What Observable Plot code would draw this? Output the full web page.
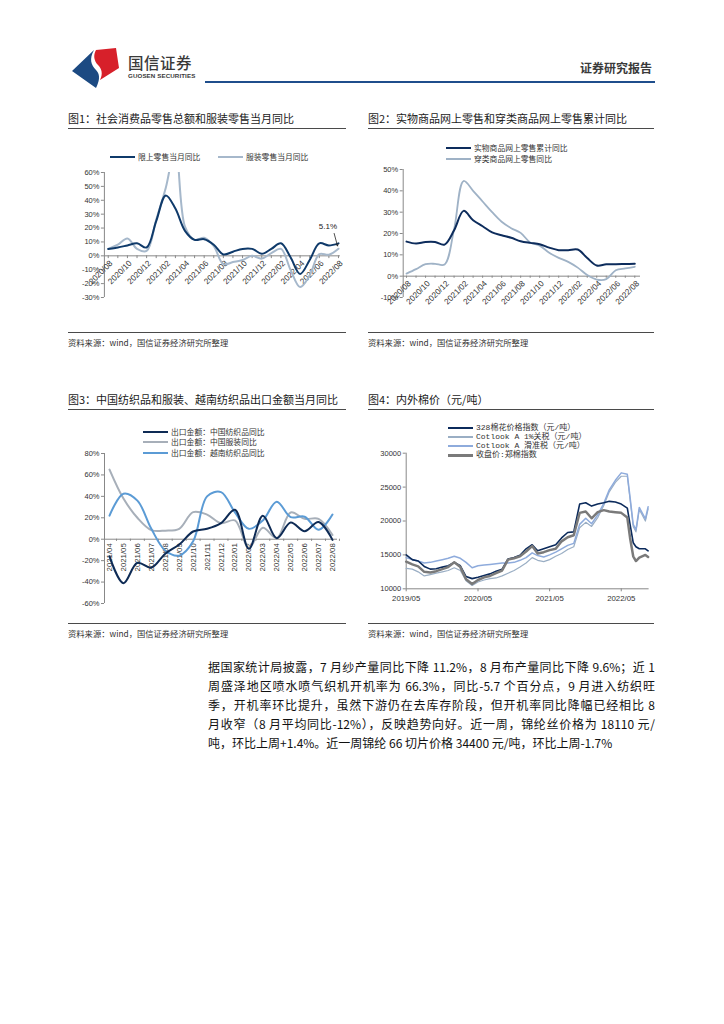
<!DOCTYPE html>
<html><head><meta charset="utf-8">
<script src="https://cdn.jsdelivr.net/npm/d3@7"></script>
<script src="https://cdn.jsdelivr.net/npm/@observablehq/plot@0.6"></script>
<style>
body{margin:0;background:#fff;}
#page{position:relative;width:724px;height:1024px;overflow:hidden;background:#fff;font-family:"Liberation Sans","Noto Sans CJK SC",sans-serif;color:#222;}
.abs{position:absolute;white-space:nowrap;line-height:1;}
.title{font-size:11px;font-family:"Noto Sans CJK SC",sans-serif;color:#1a1a1a;}
.hr{position:absolute;height:1.3px;background:#4a4a4a;}
.src{font-size:8.3px;font-family:"Noto Sans CJK SC",sans-serif;color:#333;}
.leg{font-size:7.8px;font-family:"Noto Sans CJK SC",sans-serif;color:#333;}
.sw{position:absolute;}
.para{position:absolute;left:208px;width:447px;font-family:"Noto Sans CJK SC",sans-serif;font-size:12px;color:#111;}
.para div{height:19px;line-height:19px;text-align:justify;text-align-last:justify;white-space:nowrap;}
.para div.last{text-align-last:left;}
</style>
</head><body><div id="page"></div>
<script>
// ---------------- DATA ----------------
// Fig 1: monthly, 2020/08 - 2022/08
const months1 = ["2020/08","2020/09","2020/10","2020/11","2020/12","2021/01","2021/02","2021/03","2021/04","2021/05","2021/06","2021/07","2021/08","2021/09","2021/10","2021/11","2021/12","2022/01","2022/02","2022/03","2022/04","2022/05","2022/06","2022/07","2022/08"];
const retailAbove = [5, 6, 7.5, 9, 6, 25, 43.5, 34, 18, 11.5, 12, 8, 1, 3, 5, 5, 1.5, 5, 9, -1, -13, -3, 9, 7.5, 9];
const apparelRetail = [5, 8, 12.5, 5, 3.5, 26, 49, 78, 21, 11.5, 13, 7, -6, -4.5, -3, 0, -2, 2, 5, -10, -22.5, -14, 1.2, 0.8, 5.1];
const yTicks1 = [-30,-20,-10,0,10,20,30,40,50,60];

// Fig 2: monthly, 2020/08 - 2022/08
const months2 = months1.slice();
const onlinePhysical = [16.2, 15.3, 16, 16, 14.8, 21.5, 30.6, 26.2, 23.4, 20.5, 19.2, 18, 16.4, 15.6, 15, 13.4, 12.2, 12.2, 12.5, 8.5, 5, 5.6, 5.6, 5.7, 5.8];
const onlineApparel = [1.2, 3.3, 5.6, 5.8, 5.5, 22, 44.6, 40, 35, 30, 25.5, 22.5, 20.3, 15.8, 14.3, 11, 8.6, 6.7, 4, 0.5, -1.6, -1.4, 2.8, 3.6, 4.4];
const yTicks2 = [-10,0,10,20,30,40,50];

// Fig 3: monthly, 2021/04 - 2022/08
const months3 = ["2021/04","2021/05","2021/06","2021/07","2021/08","2021/09","2021/10","2021/11","2021/12","2022/01","2022/02","2022/03","2022/04","2022/05","2022/06","2022/07","2022/08"];
const cnTextile = [-16, -41, -22, -26.5, -13.5, -5, 7.2, 9.7, 15, 27.5, -9, 22, 1, 15.6, 7.5, 16, -0.6];
const cnApparel = [65, 38, 20, 8.5, 8, 9.7, 25.3, 23, 15, 17.5, -8, 10.6, 1, 25, 19, 19, 4];
const vnTextile = [22, 42.5, 36, 9.7, -10.6, -15.3, -2, 40, 44, 25, 9.7, 17.5, 35, 20.6, 21, 8.8, 23];
const yTicks3 = [-60,-40,-20,0,20,40,60,80];

// Fig 4: cotton prices (yuan/ton)
const dates4 = ["2019-05-01","2019-06-01","2019-07-01","2019-08-01","2019-09-01","2019-10-01","2019-11-01","2019-12-01",
"2020-01-01","2020-02-01","2020-03-01","2020-04-01","2020-05-01","2020-06-01","2020-07-01","2020-08-01","2020-09-01","2020-10-01","2020-11-01","2020-12-01",
"2021-01-01","2021-02-01","2021-03-01","2021-04-01","2021-05-01","2021-06-01","2021-07-01","2021-08-01","2021-09-01","2021-10-01","2021-11-01","2021-12-01",
"2022-01-01","2022-02-01","2022-03-01","2022-04-01","2022-05-01","2022-06-01","2022-06-15","2022-07-01","2022-07-15","2022-08-01","2022-09-01","2022-09-15"];
const idx328 = [15000,14300,14100,13300,12900,12950,13200,13400,
13900,13400,11800,11500,11700,11950,12200,12600,12900,14400,14600,14950,
15900,16500,15600,15900,16200,16500,17500,18300,18400,22500,22700,22200,
22500,22700,22900,22800,22500,21900,19500,16800,16200,15900,15900,15600];
const cotlook1 = [13000,12900,12500,11900,12100,12300,12500,12700,
13100,12700,11200,10500,11000,11300,11500,11600,11900,12300,12700,13200,
13800,14600,14200,14000,14300,14800,15200,15800,16200,19000,19800,19200,
20500,22300,24300,25700,26600,26600,23200,19200,18400,21700,20000,21800];
const cotlookSlide = [14600,14300,14100,13800,13900,14100,14300,14500,
14800,14500,13900,13100,13400,13500,13600,13700,13800,13800,13900,14200,
14600,15300,14900,14700,15000,15400,15900,16400,16700,19500,20400,19600,
20900,22600,24600,26000,27100,26900,23500,19500,18700,22000,20300,22100];
const zceCotton = [14000,13600,13300,12500,12400,12600,12900,13200,
13900,13200,11400,10700,11300,11700,11900,12300,12700,14300,14500,14800,
15500,16300,15200,15400,15700,15900,17000,17600,17900,21200,21400,20400,
21300,21600,21400,21300,21200,20500,17500,14800,14100,14600,15000,14700];
const yTicks4 = [10000,15000,20000,25000,30000];
const xTicks4 = ["2019-05-01","2020-05-01","2021-05-01","2022-05-01"];

// ---------------- PAGE ----------------
const page = document.getElementById("page");
function add(html, css, cls) {
  const d = document.createElement("div");
  d.className = cls || "abs";
  d.style.cssText = css;
  d.innerHTML = html;
  page.appendChild(d);
  return d;
}
function place(node, left, top) {
  const d = document.createElement("div");
  d.style.cssText = `position:absolute;left:${left}px;top:${top}px;`;
  d.appendChild(node);
  page.appendChild(d);
}

// Header
add(`<svg width="60" height="45" viewBox="0 0 60 45">
<path d="M2,24 L24,3 C19,12 21,18 26,23 C31,28 29,35 26,41 Z" fill="#1c4a82"/>
<path d="M26,3 L46,1 L49,21 L30,33 C33,27 32,22 28,18 C24,14 23,8 26,3 Z" fill="#d7202a"/>
</svg>`, "left:70px;top:47px;", "abs");
add("国信证券", "left:128px;top:55px;font-size:15.5px;font-family:'Noto Sans CJK SC';font-weight:500;color:#3a3a3a;letter-spacing:0.5px;");
add("GUOSEN SECURITIES", "left:128px;top:73px;font-size:6.2px;font-weight:bold;color:#3a3a3a;letter-spacing:0.1px;");
add("证券研究报告", "left:580px;top:62px;font-size:12px;font-family:'Noto Sans CJK SC';font-weight:bold;color:#3a3a3a;");
add("", "left:205px;top:81px;width:450px;height:2px;background:#1f4e8c;", "hr");

// Panel frames
function panel(left, right, topTitle, title, bottomY) {
  add(title, `left:${left}px;top:${topTitle}px;`, "abs title");
  add("", `left:${left}px;top:${topTitle+15}px;width:${right-left}px;`, "hr");
  add("", `left:${left}px;top:${bottomY}px;width:${right-left}px;`, "hr");
  add("资料来源：wind，国信证券经济研究所整理", `left:${left}px;top:${bottomY+6}px;`, "abs src");
}
panel(68, 346, 113, "图1：社会消费品零售总额和服装零售当月同比", 332);
panel(368, 654, 113, "图2：实物商品网上零售和穿类商品网上零售累计同比", 332);
panel(68, 346, 394, "图3：中国纺织品和服装、越南纺织品出口金额当月同比", 623);
panel(368, 654, 394, "图4：内外棉价（元/吨）", 623);

function legendItem(x, y, color, w, label, font) {
  add("", `left:${x}px;top:${y - w/2}px;width:25px;height:${w}px;background:${color};`, "sw");
  add(label, `left:${x+28}px;top:${y-4.5}px;${font||""}`, "abs leg");
}

const cDark = "#0f3a6a", cLight = "#a6b8cb";
const axisStyle = {fontFamily: "Liberation Sans, sans-serif", fontSize: "7.5px", color: "#333", background: "transparent", overflow: "visible"};

// ---------------- FIG 1 ----------------
{
  const data = months1.map((m, i) => ({i, m, a: retailAbove[i], b: apparelRetail[i]}));
  const labelIdx = data.filter(d => d.i % 2 === 0);
  const last = data[data.length - 1];
  const xd = [-0.4, 24.2];
  const p = Plot.plot({
    width: 290, height: 150, marginLeft: 43.9, marginRight: 10.1, marginTop: 7, marginBottom: 18,
    x: {domain: xd, axis: null}, y: {domain: [-30, 60], axis: null},
    style: axisStyle,
    marks: [
      Plot.axisY({ticks: yTicks1, tickFormat: d => d + "%", tickSize: 3, tickPadding: 2, fontSize: 7.5, stroke: "#888"}),
      Plot.ruleX([xd[0]], {stroke: "#888"}),
      Plot.ruleY([0], {stroke: "#888"}),
      Plot.ruleX(data, {x: "i", y1: 0, y2: -2, stroke: "#888"}),
      Plot.text(labelIdx, {x: "i", y: () => 0, text: "m", rotate: -45, textAnchor: "end", dy: 6, dx: 3, fontSize: 8.2, fill: "#333"}),
      Plot.line(data, {x: "i", y: "b", stroke: cLight, strokeWidth: 2, curve: "catmull-rom", clip: true}),
      Plot.line(data, {x: "i", y: "a", stroke: cDark, strokeWidth: 2, curve: "catmull-rom", clip: true}),
      Plot.arrow([last], {x1: d => d.i - 0.45, y1: d => d.b + 11, x2: d => d.i - 0.1, y2: d => d.b + 2, stroke: "#222", strokeWidth: 0.8, headLength: 4}),
      Plot.text([last], {x: d => d.i - 1.1, y: d => d.b + 16, text: d => d.b.toFixed(1) + "%", fontSize: 8, fill: "#222"})
    ]
  });
  place(p, 60, 165);
  legendItem(110, 157, cDark, 2, "限上零售当月同比");
  legendItem(218, 157, cLight, 2, "服装零售当月同比");
}

// ---------------- FIG 2 ----------------
{
  const data = months2.map((m, i) => ({i, m, a: onlinePhysical[i], b: onlineApparel[i]}));
  const labelIdx = data.filter(d => d.i % 2 === 0);
  const xd = [-0.35, 24.6];
  const p = Plot.plot({
    width: 290, height: 140, marginLeft: 42.7, marginRight: 10, marginTop: 4, marginBottom: 8,
    x: {domain: xd, axis: null}, y: {domain: [-10, 50], axis: null},
    style: axisStyle,
    marks: [
      Plot.axisY({ticks: yTicks2, tickFormat: d => d + "%", tickSize: 3, tickPadding: 2, fontSize: 7.5, stroke: "#888"}),
      Plot.ruleX([xd[0]], {stroke: "#888"}),
      Plot.ruleY([0], {stroke: "#888"}),
      Plot.ruleX(data, {x: "i", y1: 0, y2: -1, stroke: "#888"}),
      Plot.text(labelIdx, {x: "i", y: () => 0, text: "m", rotate: -45, textAnchor: "end", dy: 6, dx: 3, fontSize: 8.2, fill: "#333"}),
      Plot.line(data, {x: "i", y: "b", stroke: "#9fb2c6", strokeWidth: 1.8, curve: "catmull-rom"}),
      Plot.line(data, {x: "i", y: "a", stroke: "#0d2c5c", strokeWidth: 2, curve: "catmull-rom"})
    ]
  });
  place(p, 360, 165);
  legendItem(446, 148, "#0d2c5c", 2, "实物商品网上零售累计同比");
  legendItem(446, 159, "#9fb2c6", 2, "穿类商品网上零售同比");
}

// ---------------- FIG 3 ----------------
{
  const data = months3.map((m, i) => ({i, m, a: cnTextile[i], b: cnApparel[i], c: vnTextile[i]}));
  const xd = [-0.36, 16.36];
  const p = Plot.plot({
    width: 290, height: 165, marginLeft: 44, marginRight: 13, marginTop: 8, marginBottom: 7,
    x: {domain: xd, axis: null}, y: {domain: [-60, 80], axis: null},
    style: axisStyle,
    marks: [
      Plot.axisY({ticks: yTicks3, tickFormat: d => d + "%", tickSize: 3, tickPadding: 2, fontSize: 7.5, stroke: "#888"}),
      Plot.ruleX([xd[0]], {stroke: "#888"}),
      Plot.ruleY([0], {stroke: "#888"}),
      Plot.ruleX(data, {x: d => d.i + 0.5, y1: 0, y2: -2, stroke: "#888"}),
      Plot.text(data, {x: "i", y: () => 0, text: "m", rotate: -90, textAnchor: "end", dy: 4, fontSize: 7.8, fill: "#333"}),
      Plot.line(data, {x: "i", y: "b", stroke: "#a7afb9", strokeWidth: 2, curve: "catmull-rom"}),
      Plot.line(data, {x: "i", y: "c", stroke: "#5b9bd5", strokeWidth: 2, curve: "catmull-rom"}),
      Plot.line(data, {x: "i", y: "a", stroke: "#0e2b55", strokeWidth: 2, curve: "catmull-rom"})
    ]
  });
  place(p, 60, 445);
  legendItem(143, 432, "#0e2b55", 2, "出口金额：中国纺织品同比");
  legendItem(143, 442, "#a7afb9", 2, "出口金额：中国服装同比");
  legendItem(143, 453, "#5b9bd5", 2, "出口金额：越南纺织品同比");
}

// ---------------- FIG 4 ----------------
{
  const parse = d3.utcParse("%Y-%m-%d");
  const data = dates4.map((s, i) => ({date: parse(s), a: idx328[i], b: cotlook1[i], c: cotlookSlide[i], d: zceCotton[i]}));
  const xd = [parse("2019-05-01"), parse("2022-09-20")];
  const p = Plot.plot({
    width: 300, height: 165, marginLeft: 45.7, marginRight: 11.4, marginTop: 7.7, marginBottom: 21.7,
    x: {type: "utc", domain: xd, axis: null}, y: {domain: [10000, 30000], axis: null},
    style: axisStyle,
    marks: [
      Plot.axisY({ticks: yTicks4, tickFormat: d3.format("d"), tickSize: 3, tickPadding: 2, fontSize: 7.5, stroke: "#888"}),
      Plot.axisX({ticks: xTicks4.map(parse), tickFormat: d3.utcFormat("%Y/%m"), tickSize: 3, tickPadding: 4, fontSize: 7.8, stroke: "#888"}),
      Plot.ruleX([xd[0]], {stroke: "#888"}),
      Plot.ruleY([10000], {stroke: "#888"}),
      Plot.line(data, {x: "date", y: "b", stroke: "#9aaec4", strokeWidth: 1.2}),
      Plot.line(data, {x: "date", y: "c", stroke: "#8eabdc", strokeWidth: 1.5}),
      Plot.line(data, {x: "date", y: "a", stroke: "#0b2a5b", strokeWidth: 1.6}),
      Plot.line(data, {x: "date", y: "d", stroke: "#7a7a7a", strokeWidth: 2.5})
    ]
  });
  place(p, 360, 445);
  const mono = "font-family:'Liberation Mono','Noto Sans CJK SC',monospace;font-size:8px;";
  legendItem(448, 428, "#0b2a5b", 2, "328棉花价格指数（元/吨）", mono);
  legendItem(448, 437, "#9aaec4", 2, "Cotlook A 1%关税（元/吨）", mono);
  legendItem(448, 446, "#8eabdc", 2, "Cotlook A 滑准税（元/吨）", mono);
  legendItem(448, 455, "#7a7a7a", 3, "收盘价:郑棉指数", mono);
}

// ---------------- PARAGRAPH ----------------
const paraLines = [
  "据国家统计局披露，7 月纱产量同比下降 11.2%，8 月布产量同比下降 9.6%；近 1",
  "周盛泽地区喷水喷气织机开机率为 66.3%，同比-5.7 个百分点，9 月进入纺织旺",
  "季，开机率环比提升，虽然下游仍在去库存阶段，但开机率同比降幅已经相比 8",
  "月收窄（8 月平均同比-12%），反映趋势向好。近一周，锦纶丝价格为 18110 元/",
  "吨，环比上周+1.4%。近一周锦纶 66 切片价格 34400 元/吨，环比上周-1.7%"
];
const para = add("", "top:657px;", "para");
paraLines.forEach((t, k) => {
  const d = document.createElement("div");
  d.textContent = t;
  if (k === paraLines.length - 1) d.className = "last";
  para.appendChild(d);
});
</script>
</body></html>
